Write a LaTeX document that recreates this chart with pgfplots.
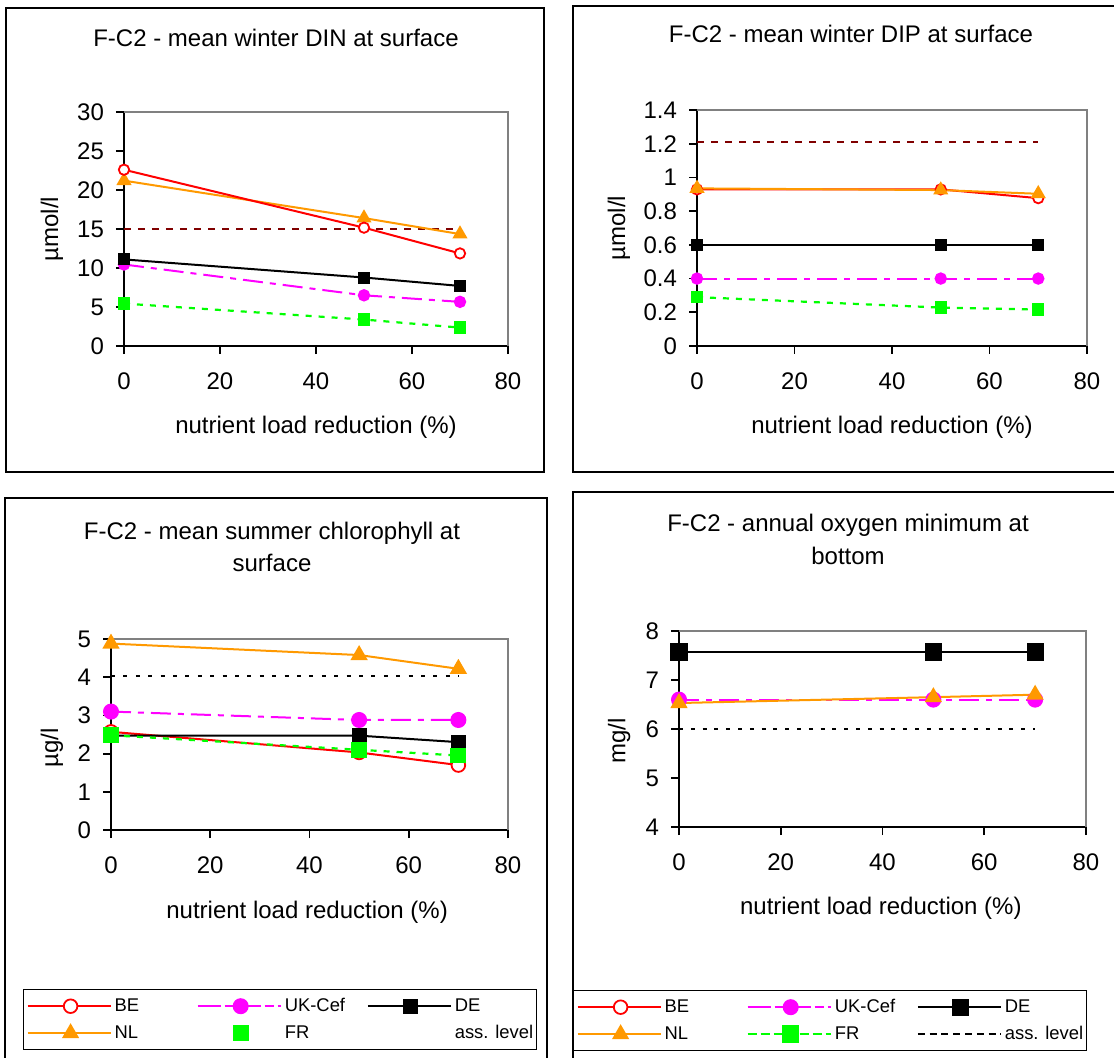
\documentclass[border=0pt]{standalone}
\usepackage{fontspec}
\setmainfont{Liberation Sans}
\usepackage{pgfplots}
\pgfplotsset{compat=1.18}
\definecolor{exred}{HTML}{FF0000}
\definecolor{exorange}{HTML}{FF9900}
\definecolor{exmag}{HTML}{FF00FF}
\definecolor{exgreen}{HTML}{00FF00}
\definecolor{exdarkred}{HTML}{800000}
\definecolor{exgray}{HTML}{808080}
\newcommand\tf{\fontsize{12}{14.4}\selectfont}
\newcommand\lf{\fontsize{9.2}{11}\selectfont}
\pgfplotsset{
  panel/.style={
    scale only axis,
    axis x line*=bottom, axis y line*=left,
    axis line style={black, line width=0.9pt},
    tick style={black, line width=0.9pt},
    tick align=outside,
    major tick length=4pt,
    xmin=0, xmax=80, xtick={0,20,40,60,80},
    clip=false,
    /pgf/number format/assume math mode=true,
    tick label style={font=\tf},
    label style={font=\tf},
    xticklabel style={yshift=-6pt},
    yticklabel style={xshift=-2.5pt},
    xlabel={nutrient load reduction (\%)},
  },
  sBE/.style={color=exred, line width=1pt, mark=*, mark size=#1, mark options={solid, fill=white, draw=exred, line width=0.9pt}},
  sUK/.style={color=exmag, line width=1pt, dash pattern=on 10pt off 3.5pt on 3pt off 3.5pt, mark=*, mark size=#1, mark options={solid, fill=exmag, draw=exmag}},
  sDE/.style={color=black, line width=1pt, mark=square*, mark size=#1, mark options={solid, fill=black, draw=black}},
  sNL/.style={color=exorange, line width=1pt, mark=triangle*, mark size=#1, mark options={solid, fill=exorange, draw=exorange}},
  sFR/.style={color=exgreen, line width=1.1pt, dash pattern=on 3pt off 3.5pt, mark=square*, mark size=#1, mark options={solid, fill=exgreen, draw=exgreen}},
  sASS/.style={color=#1, line width=0.9pt, dash pattern=on 3.5pt off 3.5pt, mark=none},
  leg/.style={
    legend columns=3,
    legend cell align=left,
    legend image code/.code={\path (-1.5pt,0pt) -- (40pt,0pt); \draw[mark repeat=2,mark phase=2,##1] plot coordinates {(0pt,0pt) (20pt,0pt) (40pt,0pt)};},
    legend style={
      draw=black, line width=0.6pt, fill=white,
      inner xsep=1.5pt, inner ysep=2pt,
      font=\lf,
      nodes={inner sep=0pt, text height=9pt, text depth=3.6pt},
      /tikz/column sep=0pt,
      /tikz/every odd column/.style={column sep=1.5pt},
      /tikz/every even column/.style={column sep=0pt},
      /tikz/row sep=0.9pt,
    },
  },
}
\begin{document}
\begin{tikzpicture}
\useasboundingbox (0pt,0pt) rectangle (557pt,528.5pt);
% panel frames
\draw[line width=0.75pt] (3pt,292.5pt) rectangle (272pt,524.5pt);
\draw[line width=0.75pt] (565pt,525.5pt) -- (286.5pt,525.5pt) -- (286.5pt,292.5pt) -- (565pt,292.5pt);
\draw[line width=0.75pt] (2.5pt,-5pt) -- (2.5pt,279.5pt) -- (273.5pt,279.5pt) -- (273.5pt,-5pt);
\draw[line width=0.75pt] (286.5pt,-5pt) -- (286.5pt,282.5pt) -- (565pt,282.5pt);
% titles
\node[anchor=base, font=\tf, inner sep=0pt] at (138pt,505.2pt) {F-C2 - mean winter DIN at surface};
\node[anchor=base, font=\tf, inner sep=0pt] at (425.5pt,507pt) {F-C2 - mean winter DIP at surface};
\node[anchor=base, font=\tf, inner sep=0pt] at (136pt,259pt) {F-C2 - mean summer chlorophyll at};
\node[anchor=base, font=\tf, inner sep=0pt] at (136pt,243pt) {surface};
\node[anchor=base, font=\tf, inner sep=0pt] at (424pt,262.75pt) {F-C2 - annual oxygen minimum at};
\node[anchor=base, font=\tf, inner sep=0pt] at (424pt,246.2pt) {bottom};

% ---------- DIN ----------
\begin{axis}[panel, at={(62pt,355.5pt)}, anchor=south west, width=192pt, height=117pt,
  ymin=0, ymax=30, ytick={0,5,10,15,20,25,30}, ylabel={µmol/l},
  xlabel style={at={(axis description cs:0.5,-0.346)}, anchor=center},
  ylabel style={at={(axis description cs:-0.1875,0.5)}, anchor=center}]
\draw[exgray, line width=0.9pt] (rel axis cs:0,1) -- (rel axis cs:1,1) -- (rel axis cs:1,0);
\addplot[sASS=exdarkred] coordinates {(0,15) (70,15)};
\addplot[sFR=2.5pt] coordinates {(0,5.44) (50,3.39) (70,2.36)};
\addplot[sUK=2.6pt] coordinates {(0,10.45) (50,6.5) (70,5.66)};
\addplot[sDE=2.5pt] coordinates {(0,11.1) (50,8.78) (70,7.7)};
\addplot[sNL=3.4pt] coordinates {(0,21.2) (50,16.4) (70,14.35)};
\addplot[sBE=2.6pt] coordinates {(0,22.6) (50,15.17) (70,11.87)};
\end{axis}

% ---------- DIP ----------
\begin{axis}[panel, at={(348.5pt,355.5pt)}, anchor=south west, width=195pt, height=118pt,
  ymin=0, ymax=1.4, ytick={0,0.2,0.4,0.6,0.8,1,1.2,1.4}, ylabel={µmol/l},
  xlabel style={at={(axis description cs:0.5,-0.343)}, anchor=center},
  ylabel style={at={(axis description cs:-0.2,0.5)}, anchor=center}]
\draw[exgray, line width=0.9pt] (rel axis cs:0,1) -- (rel axis cs:1,1) -- (rel axis cs:1,0);
\addplot[sASS=exdarkred] coordinates {(0,1.21) (70,1.21)};
\addplot[sFR=2.5pt] coordinates {(0,0.29) (50,0.228) (70,0.216)};
\addplot[sUK=2.6pt] coordinates {(0,0.4) (50,0.4) (70,0.4)};
\addplot[sDE=2.5pt] coordinates {(0,0.6) (50,0.6) (70,0.6)};
\addplot[sBE=2.6pt] coordinates {(0,0.929) (50,0.929) (70,0.877)};
\addplot[sNL=3.4pt] coordinates {(0,0.935) (50,0.925) (70,0.903)};
\end{axis}

% ---------- Chlorophyll ----------
\begin{axis}[panel, leg, at={(55.5pt,113.5pt)}, anchor=south west, width=198.5pt, height=95.5pt,
  ymin=0, ymax=5, ytick={0,1,2,3,4,5}, ylabel={µg/l},
  xlabel style={at={(axis description cs:0.494,-0.429)}, anchor=center},
  ylabel style={at={(axis description cs:-0.1486,0.43)}, anchor=center},
  legend style={at={(axis description cs:-0.2217,-0.8325)}, anchor=north west}]
\draw[exgray, line width=0.9pt] (rel axis cs:0,1) -- (rel axis cs:1,1) -- (rel axis cs:1,0);
\addplot[sBE=3.4pt] coordinates {(0,2.57) (50,2.03) (70,1.7)};
\addlegendentry{\makebox[41pt][l]{BE}}
\addplot[sUK=3.5pt] coordinates {(0,3.1) (50,2.88) (70,2.88)};
\addlegendentry{\makebox[41pt][l]{UK-Cef}}
\addplot[sDE=3.3pt] coordinates {(0,2.47) (50,2.47) (70,2.3)};
\addlegendentry{DE}
\addplot[sNL=4pt] coordinates {(0,4.88) (50,4.58) (70,4.22)};
\addlegendentry{\makebox[41pt][l]{NL}}
\addplot[sFR=3.4pt, forget plot] coordinates {(0,2.48) (50,2.1) (70,1.95)};
\addlegendimage{sFR=3.4pt, dash pattern=on 0pt off 100pt}
\addlegendentry{\makebox[41pt][l]{FR}}
\addplot[sASS=black, dash pattern=on 2pt off 4.2pt, forget plot] coordinates {(0,4.03) (70,4.03)};
\addlegendimage{color=white, mark=none, dash pattern=on 0pt off 100pt}
\addlegendentry{ass. level}
\end{axis}

% ---------- Oxygen ----------
\begin{axis}[panel, leg, at={(339.5pt,115pt)}, anchor=south west, width=203.5pt, height=98pt,
  ymin=4, ymax=8, ytick={4,5,6,7,8}, ylabel={mg/l},
  xlabel style={at={(axis description cs:0.496,-0.413)}, anchor=center},
  ylabel style={at={(axis description cs:-0.147,0.439)}, anchor=center},
  legend style={at={(axis description cs:-0.2604,-0.8316)}, anchor=north west}]
\draw[exgray, line width=0.9pt] (rel axis cs:0,1) -- (rel axis cs:1,1) -- (rel axis cs:1,0);
\addlegendimage{sBE=3.4pt}
\addlegendentry{\makebox[41pt][l]{BE}}
\addplot[sUK=3.5pt] coordinates {(0,6.6) (50,6.6) (70,6.6)};
\addlegendentry{\makebox[41pt][l]{UK-Cef}}
\addplot[sDE=3.8pt] coordinates {(0,7.57) (50,7.57) (70,7.57)};
\addlegendentry{DE}
\addplot[sNL=4pt] coordinates {(0,6.53) (50,6.65) (70,6.7)};
\addlegendentry{\makebox[41pt][l]{NL}}
\addlegendimage{sFR=3.8pt}
\addlegendentry{\makebox[41pt][l]{FR}}
\addplot[sASS=black, dash pattern=on 2pt off 3.9pt] coordinates {(0,6) (70,6)};
\addlegendentry{ass. level}
\end{axis}
\end{tikzpicture}
\end{document}
